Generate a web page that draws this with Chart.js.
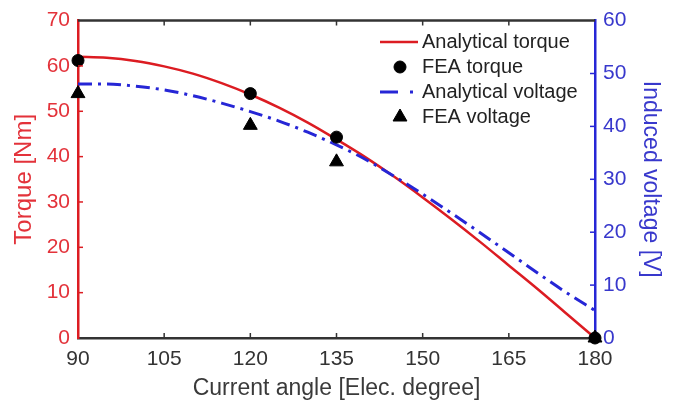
<!DOCTYPE html>
<html>
<head>
<meta charset="utf-8">
<script src="https://cdn.jsdelivr.net/npm/chart.js@4/dist/chart.umd.min.js"></script>
<style>
  html, body { margin: 0; padding: 0; background: #fff; }
  #wrap { width: 696px; height: 402px; }
</style>
</head>
<body>
<div id="wrap"><canvas id="torqueChart" width="696" height="402"></canvas></div>
<script>
// values
const angles = [90, 95, 100, 105, 110, 115, 120, 125, 130, 135, 140, 145, 150, 155, 160, 165, 170, 175, 180];
const torqueAnalytical = [62.0, 61.8, 61.1, 59.9, 58.3, 56.2, 53.7, 50.8, 47.5, 43.8, 39.9, 35.6, 31.0, 26.2, 21.2, 16.0, 10.8, 5.4, 0];
const voltageAnalytical = [48.0, 48.0, 47.6, 46.9, 45.8, 44.4, 42.8, 41.0, 38.9, 36.5, 33.8, 30.6, 27.2, 23.6, 19.9, 16.1, 12.3, 8.6, 5.2];
const feaAngles = [90, 120, 135, 180];
const torqueFEA = [61.2, 53.9, 44.3, 0];
const voltageFEA = [46.2, 40.2, 33.3, 0];
const seriesNames = ['Analytical torque', 'FEA torque', 'Analytical voltage', 'FEA voltage'];

const RED = '#dc1c22';
const RED_TXT = '#e3323a';
const BLUE = '#2626d6';
const BLUE_TXT = '#3838cc';
const DARK = '#333333';
const FONT = "'Liberation Sans', Arial, Helvetica, sans-serif";

const pts = (xs, ys) => xs.map((x, i) => ({ x: x, y: ys[i] }));

// inward tick marks, top frame line and the legend inside the plot
const frameAndLegend = {
  id: 'frameAndLegend',
  afterDraw(chart) {
    const ctx = chart.ctx;
    const area = chart.chartArea;
    const sx = chart.scales.x, sy = chart.scales.y, sy1 = chart.scales.y1;
    const len = 5;
    ctx.save();

    // top frame
    ctx.strokeStyle = DARK;
    ctx.lineWidth = 2.5;
    ctx.beginPath();
    ctx.moveTo(area.left, area.top);
    ctx.lineTo(area.right, area.top);
    ctx.stroke();

    // x ticks, bottom and top
    ctx.lineWidth = 1.5;
    sx.ticks.forEach(t => {
      if (t.value === sx.min || t.value === sx.max) return;
      const px = sx.getPixelForValue(t.value);
      ctx.beginPath();
      ctx.moveTo(px, area.bottom); ctx.lineTo(px, area.bottom - len);
      ctx.moveTo(px, area.top); ctx.lineTo(px, area.top + len);
      ctx.stroke();
    });
    // left ticks
    ctx.strokeStyle = RED;
    sy.ticks.forEach(t => {
      if (t.value === sy.min || t.value === sy.max) return;
      const py = sy.getPixelForValue(t.value);
      ctx.beginPath();
      ctx.moveTo(area.left, py); ctx.lineTo(area.left + len, py);
      ctx.stroke();
    });
    // right ticks
    ctx.strokeStyle = BLUE;
    sy1.ticks.forEach(t => {
      if (t.value === sy1.min || t.value === sy1.max) return;
      const py = sy1.getPixelForValue(t.value);
      ctx.beginPath();
      ctx.moveTo(area.right, py); ctx.lineTo(area.right - len, py);
      ctx.stroke();
    });

    // legend
    const lx = 380, tx = 422;
    const rows = [42, 67, 92, 117];
    ctx.font = '20px ' + FONT;
    ctx.textBaseline = 'middle';
    chart.data.datasets.forEach((ds, i) => {
      const y = rows[i];
      if (ds.showLine !== false) {
        ctx.strokeStyle = ds.borderColor;
        ctx.lineWidth = ds.borderWidth;
        ctx.setLineDash(ds.borderDash ? [18, 12, 3, 20] : []);
        ctx.beginPath();
        ctx.moveTo(lx, y); ctx.lineTo(lx + 38, y);
        ctx.stroke();
        ctx.setLineDash([]);
      } else {
        ctx.strokeStyle = '#000';
        ctx.fillStyle = '#000';
        ctx.lineWidth = 1;
        Chart.helpers.drawPoint(ctx, {
          pointStyle: ds.pointStyle, radius: ds.pointRadius, borderWidth: 1
        }, lx + 20, y);
      }
      ctx.fillStyle = '#222';
      ctx.fillText(ds.label, tx, y);
    });
    ctx.restore();
  }
};

new Chart(document.getElementById('torqueChart'), {
  type: 'line',
  data: {
    datasets: [
      {
        label: seriesNames[0],
        data: pts(angles, torqueAnalytical),
        yAxisID: 'y',
        borderColor: RED,
        borderWidth: 2.5,
        pointRadius: 0,
        cubicInterpolationMode: 'monotone',
        order: 3
      },
      {
        label: seriesNames[1],
        data: pts(feaAngles, torqueFEA),
        yAxisID: 'y',
        showLine: false,
        pointStyle: 'circle',
        pointRadius: 6,
        pointBackgroundColor: '#000',
        pointBorderColor: '#000',
        clip: false,
        order: 1
      },
      {
        label: seriesNames[2],
        data: pts(angles, voltageAnalytical),
        yAxisID: 'y1',
        borderColor: BLUE,
        borderWidth: 3,
        borderDash: [14, 6, 3, 6],
        pointRadius: 0,
        cubicInterpolationMode: 'monotone',
        order: 2
      },
      {
        label: seriesNames[3],
        data: pts(feaAngles, voltageFEA),
        yAxisID: 'y1',
        showLine: false,
        pointStyle: 'triangle',
        pointRadius: 8,
        pointBackgroundColor: '#000',
        pointBorderColor: '#000',
        clip: false,
        order: 0
      }
    ]
  },
  options: {
    responsive: false,
    devicePixelRatio: 1,
    animation: false,
    layout: { padding: { top: 16, left: 0, right: 0, bottom: 0 } },
    plugins: {
      legend: { display: false },
      tooltip: { enabled: false }
    },
    scales: {
      x: {
        type: 'linear',
        min: 90, max: 180,
        afterFit(s) { s.height = 64; },
        ticks: { stepSize: 15, color: DARK, padding: 9, font: { family: FONT, size: 21 } },
        grid: { display: false, drawTicks: false },
        border: { display: true, color: DARK, width: 2.5 },
        title: {
          display: true, text: 'Current angle [Elec. degree]', color: '#3a3a3a',
          font: { family: FONT, size: 23 }, padding: { top: 0, bottom: 0 }
        }
      },
      y: {
        position: 'left',
        min: 0, max: 70,
        afterFit(s) { s.width = 78; },
        ticks: { stepSize: 10, color: RED_TXT, padding: 8, font: { family: FONT, size: 21 } },
        grid: { display: false, drawTicks: false },
        border: { display: true, color: RED, width: 2.5 },
        title: {
          display: true, text: 'Torque [Nm]', color: RED_TXT,
          font: { family: FONT, size: 24 }, padding: { top: 10, bottom: 0 }
        }
      },
      y1: {
        position: 'right',
        min: 0, max: 60,
        afterFit(s) { s.width = 101; },
        ticks: { stepSize: 10, color: BLUE_TXT, padding: 8, font: { family: FONT, size: 21 } },
        grid: { display: false, drawTicks: false },
        border: { display: true, color: BLUE, width: 2.5 },
        title: {
          display: true, text: 'Induced voltage [V]', color: BLUE_TXT,
          font: { family: FONT, size: 23 }, padding: { top: 32, bottom: 0 }
        }
      }
    }
  },
  plugins: [frameAndLegend]
});
</script>
</body>
</html>
